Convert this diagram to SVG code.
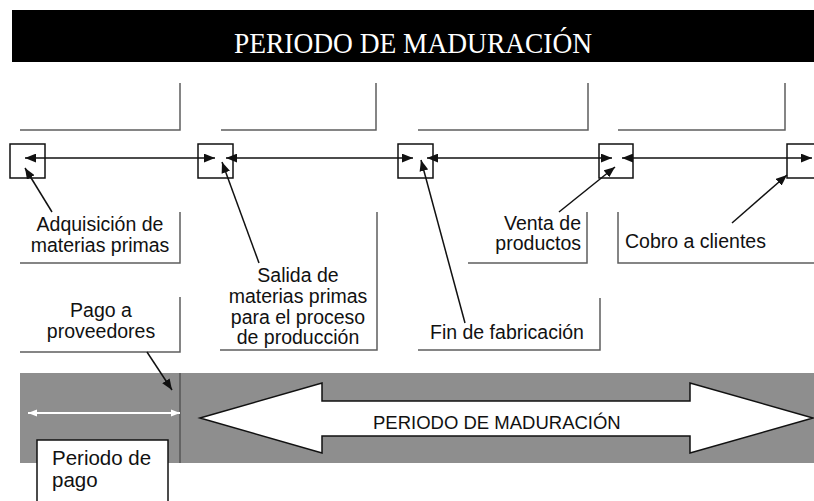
<svg xmlns="http://www.w3.org/2000/svg" width="814" height="501" viewBox="0 0 814 501">
<defs>
<style>
.lbl{font-family:"Liberation Sans",Arial,sans-serif;font-size:19.5px;fill:#111;}
.edge{fill:none;stroke:#5e5e5e;stroke-width:1.5;}
.sq{fill:#fff;stroke:#111;stroke-width:1.5;}
.tl{stroke:#111;stroke-width:1.5;fill:none;}
</style>
<marker id="ah" viewBox="0 0 10 8" refX="10" refY="4" markerWidth="11" markerHeight="9" markerUnits="userSpaceOnUse" orient="auto-start-reverse"><path d="M0,0 L10,4 L0,8 z" fill="#111"/></marker>
<marker id="ahw" viewBox="0 0 10 8" refX="10" refY="4" markerWidth="9" markerHeight="8" markerUnits="userSpaceOnUse" orient="auto-start-reverse"><path d="M0,0 L10,4 L0,8 z" fill="#fff"/></marker>
</defs>
<rect width="814" height="501" fill="#fff"/>
<g id="title">
<rect x="12" y="10" width="802" height="52" fill="#000"/>
<text x="234" y="53" textLength="358" lengthAdjust="spacingAndGlyphs" font-family="'Liberation Serif','Times New Roman',serif" font-size="30" fill="#fff">PERIODO DE MADURACIÓN</text>
</g>
<g id="top-boxes">
<polyline class="edge" points="180,83 180,130 20,130"/>
<polyline class="edge" points="376,83 376,130 221,130"/>
<polyline class="edge" points="588,83 588,130 418,130"/>
<polyline class="edge" points="785,83 785,130 618,130"/>
</g>
<g id="squares">
<rect id="sq1" class="sq" x="10" y="144" width="35" height="34"/>
<rect id="sq2" class="sq" x="198" y="144" width="35" height="34"/>
<rect id="sq3" class="sq" x="398" y="144" width="35" height="34"/>
<rect id="sq4" class="sq" x="599" y="144" width="34" height="34"/>
<rect id="sq5" class="sq" x="787" y="144" width="35" height="34"/>
</g>
<g id="band">
<rect x="20" y="373" width="794" height="90" fill="#8e8e8e"/>
<line x1="180" y1="373" x2="180" y2="463" stroke="#555" stroke-width="1.5"/>
</g>
<g id="adquisicion">
<polyline class="edge" points="180,212 180,263 20,263"/>
<text class="lbl" text-anchor="middle" x="100" y="231">Adquisición de</text>
<text class="lbl" text-anchor="middle" x="100" y="252">materias primas</text>
</g>
<g id="salida">
<polyline class="edge" points="377,212 377,350 220,350"/>
<text class="lbl" text-anchor="middle" x="298" y="282">Salida de</text>
<text class="lbl" text-anchor="middle" x="298" y="303">materias primas</text>
<text class="lbl" text-anchor="middle" x="298" y="324">para el proceso</text>
<text class="lbl" text-anchor="middle" x="298" y="344">de producción</text>
</g>
<g id="pago">
<polyline class="edge" points="180,297 180,352 20,352"/>
<text class="lbl" text-anchor="middle" x="101" y="317">Pago a</text>
<text class="lbl" text-anchor="middle" x="101" y="338">proveedores</text>
</g>
<g id="fin">
<polyline class="edge" points="600,298 600,350 418,350"/>
<text class="lbl" x="430" y="339">Fin de fabricación</text>
</g>
<g id="venta">
<polyline class="edge" points="587,212 587,263 468,263"/>
<text class="lbl" text-anchor="end" x="581" y="230">Venta de</text>
<text class="lbl" text-anchor="end" x="581" y="250">productos</text>
</g>
<g id="cobro">
<polyline class="edge" points="618,212 618,263 814,263"/>
<text class="lbl" x="625" y="248">Cobro a clientes</text>
</g>
<g id="maduracion">
<polygon points="200,418 322,383 322,401 690,401 690,383 813,418 690,453 690,436 322,436 322,453" fill="#fff" stroke="#111" stroke-width="1.5"/>
<text class="lbl" x="373" y="429" style="font-size:18.5px">PERIODO DE MADURACIÓN</text>
</g>
<g id="periodo-pago">
<rect x="37" y="440" width="131" height="70" fill="#fff" stroke="#111" stroke-width="1.5"/>
<text class="lbl" x="52" y="465" style="font-size:20.5px">Periodo de</text>
<text class="lbl" x="52" y="487" style="font-size:20.5px">pago</text>
</g>
<g id="connectors">
<line class="tl" x1="25" y1="158" x2="215" y2="158" marker-start="url(#ah)" marker-end="url(#ah)"/>
<line class="tl" x1="226" y1="158" x2="413" y2="158" marker-start="url(#ah)" marker-end="url(#ah)"/>
<line class="tl" x1="427" y1="158" x2="612" y2="158" marker-start="url(#ah)" marker-end="url(#ah)"/>
<line class="tl" x1="622" y1="158" x2="812" y2="158" marker-start="url(#ah)" marker-end="url(#ah)"/>
<line class="tl" x1="52" y1="212" x2="25" y2="168" marker-end="url(#ah)"/>
<line class="tl" x1="259" y1="263" x2="222" y2="162" marker-end="url(#ah)"/>
<line class="tl" x1="465" y1="323" x2="421" y2="160" marker-end="url(#ah)"/>
<line class="tl" x1="559" y1="212" x2="615" y2="167" marker-end="url(#ah)"/>
<line class="tl" x1="732" y1="223" x2="787" y2="175" marker-end="url(#ah)"/>
<line class="tl" x1="147" y1="352" x2="172" y2="390" marker-end="url(#ah)"/>
<line x1="28" y1="413" x2="180" y2="413" stroke="#fff" stroke-width="2" marker-start="url(#ahw)" marker-end="url(#ahw)"/>
</g>
</svg>
